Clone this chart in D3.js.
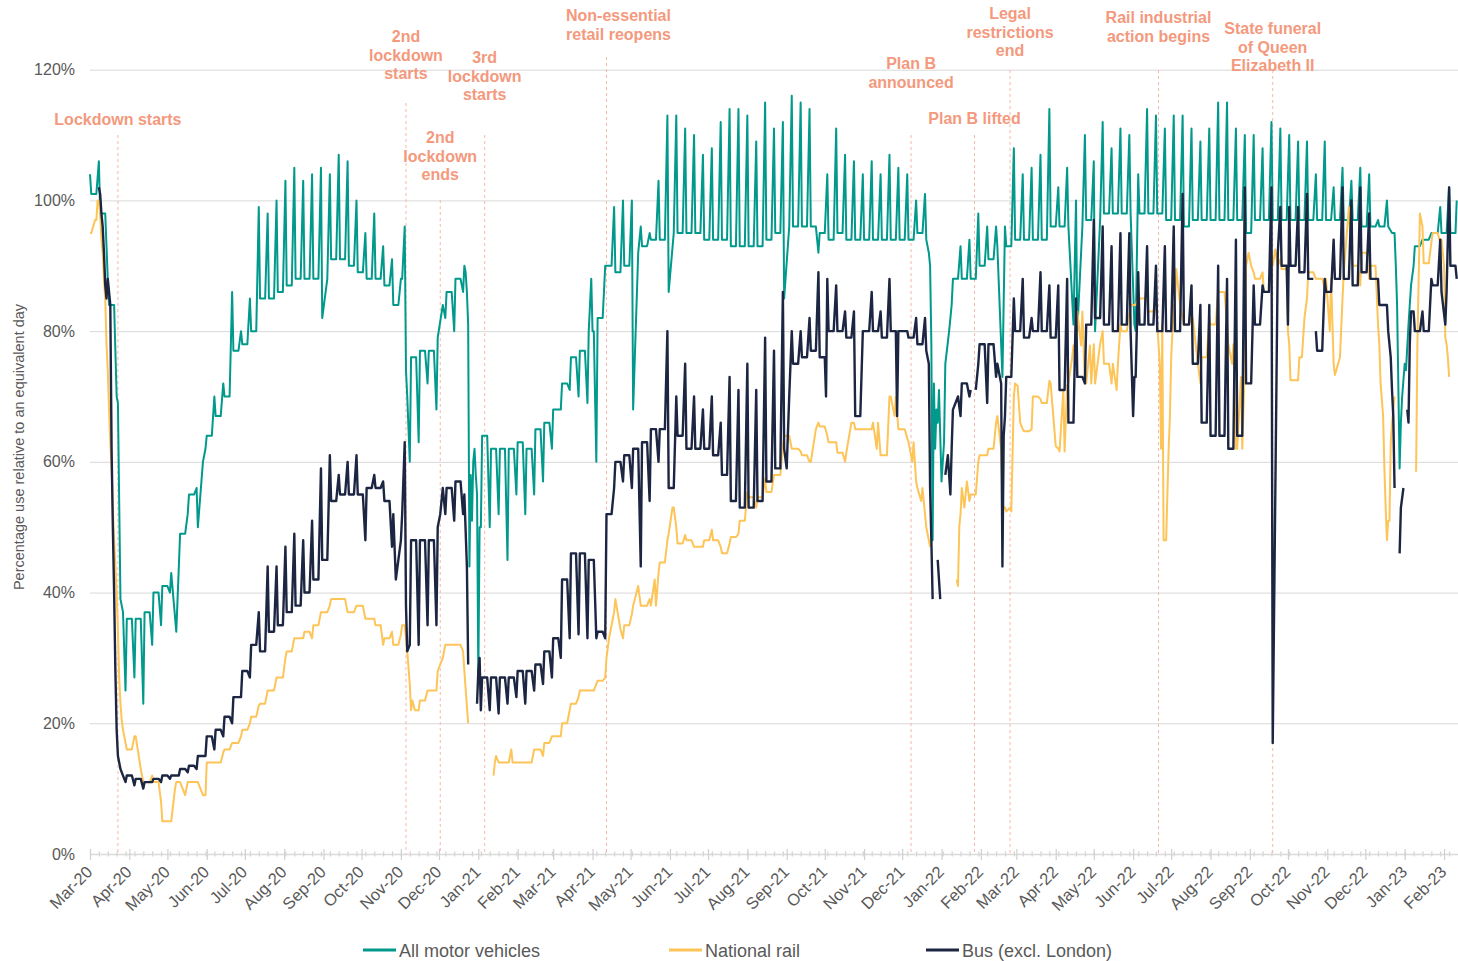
<!DOCTYPE html>
<html>
<head>
<meta charset="utf-8">
<script src="https://cdn.jsdelivr.net/npm/d3@7"></script>
<style>
  body { margin: 0; background: #fff; }
  svg { font-family: "Liberation Sans", Arial, sans-serif; }
</style>
</head>
<body>
<svg id="chart" width="1458" height="961"></svg>
<script>
// Week w starts on Sunday (2020-03-01 + 7w): *Sun = Sunday value,
// *Wd = weekday level (Mon and Fri). Extras are one-off days [dayIndex, value];
// a null value marks a break in the series.

const startDate = "2020-03-01";

const motorSun = [104,106,88,70,25,27,23,32,35,40,44,52,56,62,70,72,86,80,85,99,98,100,103,105,103,104,105,104,107,106,100,95,98,93,91,88,60,63,72,68,82,80,86,51,
  50,50,52,45,55,52,55,57,62,68,71,70,69,60,90,99,100,100,96,95,103,113,113,111,110,107,108,112,114,114,113,109,115,111,112,116,115,114,110,104,111,107,106,104,106,104,107,105,104,100,101,72,
  60,84,93,94,98,96,96,96,108,104,105,107,114,102,105,100,110,106,112,108,111,110,104,114,113,111,113,113,111,109,111,115,115,111,110,110,108,112,111,110,109,109,104,109,102,105,103,105,104,97,100,90,
  75,90,94,95,99,102];
const motorWd = [101,98,84,37,36,36,37,40,41,43,49,55,60,64,67,70,77,78,80,85,85,86,87,88,88,88,88,91,91,90,89,88,88,87,84,88,76,77,77,79,86,88,90,60,
  64,62,62,62,63,62,65,66,68,72,76,77,80,82,90,89,90,92,93,94,94,95,95,95,95,94,94,94,93,93,93,93,94,95,96,96,96,96,95,94,95,94,94,94,94,94,94,94,94,95,94,62,
  80,88,88,88,90,91,93,93,94,94,94,94,96,96,96,96,97,97,98,98,98,98,98,98,98,97,97,96,97,97,97,97,97,97,95,97,97,97,97,97,97,97,97,97,97,97,97,96,96,96,96,70,
  80,93,94,95,95,95];
const motorExtra = [[22,69],[24,39],[68,34],[85,50],[183,82],[248,96],[249,74],[250,70],[278,84],
  [296,89],[297,86],[298,81],[299,44],[300,58],[303,62],[304,58],[305,55],[306,27],[307,50],
  [395,88],[396,80],[428,68],[456,86],[547,85],[574,92],
  [661,92],[662,90],[663,78],[664,48],[667,68],[668,66],[669,71],[670,64],[671,57],[673,63],[674,75],
  [719,73],[775,81],[778,80],[792,80],[823,81],[824,80],
  [1026,95],[1027,95],[1028,95],[1030,84],[1032,59],[1033,66],[1037,74],[1039,81],[1041,87],[1077,100]];

const railSun = [95,null,null,null,17,18,11,12,8,5,11,11,11,9,14,15.5,17,18,20,22.7,25,27,30,33,33,33,37,38,39,37,38,36,36,32,34,33.6,26,22,25,25,32,32,31,null,
  null,null,14,14,14,14,16,15,18,18,22,24,25,26,27,37,33,36.7,38,39,43,48,50,48.8,47,47,49.6,47,47.5,49,55.4,53,57.5,58,62.4,62,61.6,60,66,64,63,60,66,65,65,61,70,65,63.6,57,52,null,
  null,null,52,54,60,61,66,53,70,65,65,69.6,72.4,62,71.7,78,72,78,80,72,81,82.6,85,85.8,85,48,84,82,82,72,82,86,81,62,75,89,89,92,91,78,72.5,85,88,86.5,75,85,95,87,88,81,48,null,
  null,null,96,93.5,93.5,73];
const railWd = [95,null,null,null,16,18,11,11,5,5,11,11,11,14,14,16,17,19,21,23,25,27,31,33,34,35,37,39,39,37,38,36,35,33,32,35,22,23.5,25,28,32,32,28,null,
  null,null,14,14,14,14,16,17,18,20,23,25,25,26.5,30,39,35,38,38,38,44.6,49,47.5,48,47,48,48,46,48.5,51,54.6,54.6,55.4,58,64,62,61,60,65.4,63,61.4,61.4,65,65,66,61,70,65,63,56,50,null,
  null,null,57,55,61,62,67,52.4,72,64.7,70,69,72,61.6,72,83,72,72,75,75,80,84,85,83,81,76,84,81,82,76,81,86,78,62,90,88,86,90,89.5,72.5,76,89,88,88,73.3,89,90,92,90,78,51,null,
  null,null,90.4,95,94,null];
const railExtra = [[4,97],[5,97],[6,100],[7,100],[8,98],[9,94],[10,92],[11,88],[12,85],[13,78],[14,74],[15,68],[16,63],
  [17,59],[18,53],[19,48],[20,44],[21,40],[22,34],[23,27],[24,23],[25,20.5],[26,19],[27,18],
  [40,13],[67,10],[68,11],[75,9],[89,9],[248,35],[250,31],[252,26],[254,23.5],[256,22],[278,30],[298,20],[299,null],
  [318,12],[319,14],[320,15],[332,16],[333,14],[409,33],[411,35],[418,34.4],[432,41],[445,42],[459,53],[460,53],
  [572,65],[600,66],[620,62],[634,67],[648,60],[655,54],[660,49],[662,47],[663,null],
  [683,42],[684,41],[685,50],[686,52],[687,56],[689,53],[718,62],[719,54],[720,53],[725,53],[731,71.6],[733,66],
  [761,62.4],[767,71],[774,76],[775,77.8],[781,77.8],[788,77.8],[796,78],[802,75],[809,71],
  [843,75],[844,62],[846,48],[848,48],[850,62],[851,67],[856,89.5],[873,75],[900,75],[907,73],[913,92],[934,92.5],
  [944,80],[955,76],[957,82],[977,80],[985,76],[992,99],[993,95],[1017,72],[1019,67],
  [1020,59],[1021,53],[1024,51],[1025,62.8],[1026,66],[1027,68],[1028,70],[1029,null],
  [1045,58.5],[1046,78],[1048,98],[1067,90],[1068,79],[1069,78],[1070,76]];

const busSun = [null,null,null,null,11,10.5,10,11,11,11.5,12,12.5,13,15,16,18,20,24,27,37,44,44,47,49,48,51,59,61,58,60,61,48,58,57,47,48,32,32,35,35,52,51,52,null,
  22,22,21.5,23,24,23,25,26,27,30,33,33.6,33,33,33,56,57,56,44,54,60,80,70,75,70,68,70,66,73,71,75,71,79,77,86,80,80,82,89,88,87,83,83,80,86,83,88,80,80,82,82,null,
  null,62,67,70,75,69,73,67,85,88,82,89,87,87,88,85,72,97,96,93,95,95,89,93,90,93,96,101,87,84,84,90,88,94,102,87,87,102,99,99,99,101,80,88,94,102,100,102,98,88,84,null,
  null,83,83,88,94,102];
const busWd = [null,null,null,null,12,11.5,11,11.5,12,12,13,13.5,15,18,19,21,24,28,32,31,34,35,37,38,40,42,45,54,55,55,55,56,56,54,52,52,48,48,48,50,56,57,55,null,
  27,27,27,27,28,28,29,31,33,42,46,46,45,34,52,60,61,62,63,65,65,56,64,62,62,62,61,58,54,53,53,54,57,59,63,75,76,77,76,80,80,79,67,80,80,79,80,80,79,78,77,null,
  null,70,72,71,78,78,75,73,80,79,80,80,79,71,66,73,81,82,81,80,81,80,81,81,80,80,80,81,75,66,64,64,62,64,72,81,86,92,90,90,89,88,77,86,88,88,87,89,88,84,80,null,
  null,80,80,87,86,90];
const busExtra = [[7,102],[8,101],[9,98],[10,96],[11,92],[12,87],[13,85],[14,88],[15,86],[16,84],[17,62],[18,50],[19,40],
  [20,28],[21,19],[22,15],[23,14],[24,13],[26,12],
  [241,42],[243,45],[246,52],[248,63],[249,38],[250,31],[276,52],[278,56],
  [297,44],[298,29],[299,null],[305,23],[306,28],[307,30],
  [547,62],[549,59],[551,70],[580,70],[636,67],
  [661,75],[662,56],[663,48],[664,39],[665,null],[668,45],[670,39],[671,null],[674,58],[676,61],[678,55],[680,68],
  [695,null],[718,72],[719,44],[720,64],[822,67],[823,73],[824,73],[932,17],[944,81],[965,null],
  [1025,76],[1026,71],[1027,67],[1028,56],[1029,null],[1032,46],[1033,53],[1035,56],[1036,null],
  [1038,68],[1039,66],[1040,78],[1041,83],[1068,81],[1077,88]];

const seriesNames = ["All motor vehicles", "National rail", "Bus (excl. London)"];
const yTicks = [0, 20, 40, 60, 80, 100, 120];

const eventDates = ["2020-03-23","2020-11-05","2020-12-02","2021-01-06","2021-04-12",
  "2021-12-08","2022-01-27","2022-02-24","2022-06-21","2022-09-19"];
const eventLabels = [["Lockdown starts"], ["2nd","lockdown","starts"], ["2nd","lockdown","ends"],
  ["3rd","lockdown","starts"], ["Non-essential","retail reopens"], ["Plan B","announced"],
  ["Plan B lifted"], ["Legal","restrictions","end"], ["Rail industrial","action begins"],
  ["State funeral","of Queen","Elizabeth II"]];

// layout of the event labels: first text line centre, top of dashed line, x nudge
const eventLayout = [[119,135,0],[36,103,0],[137,200,0],[57,135,0],[15,57,12],
  [63,135,0],[118,135,0],[13,70,0],[17,70,0],[28,70,0]];

const colors = ["#00998b", "#fdc457", "#1c2642"];
const textGrey = "#595959";
const eventColor = "#f4997d";

const svg = d3.select("#chart");
const parse = d3.utcParse("%Y-%m-%d");
const t0 = parse(startDate);

const x = d3.scaleUtc()
  .domain([t0, parse("2023-02-12")])
  .range([90, 1458]);
const y = d3.scaleLinear().domain([0, 120]).range([854, 69.7]);

function buildSeries(sun, wd, extra) {
  const pts = new Map();
  sun.forEach((v, w) => { if (v != null) pts.set(7 * w, v); });
  wd.forEach((v, w) => {
    if (v != null) { pts.set(7 * w + 1, v); pts.set(7 * w + 5, v); }
  });
  extra.forEach(([d, v]) => pts.set(d, v));
  return Array.from(pts, ([d, v]) => ({ day: d, v: v }))
    .sort((a, b) => a.day - b.day)
    .map(p => ({ date: d3.utcDay.offset(t0, p.day), v: p.v }));
}

const series = [
  buildSeries(motorSun, motorWd, motorExtra),
  buildSeries(railSun, railWd, railExtra),
  buildSeries(busSun, busWd, busExtra)
];

// gridlines + y labels
const yAxis = svg.append("g")
  .attr("transform", "translate(90,0)")
  .call(d3.axisLeft(y).tickValues(yTicks).tickSize(-(1458 - 90)).tickPadding(15)
    .tickFormat(d => d + "%"));
yAxis.select(".domain").remove();
yAxis.selectAll(".tick line").attr("stroke", "#d9d9d9").attr("stroke-width", 1);
yAxis.selectAll(".tick text")
  .attr("fill", textGrey).style("font-size", "16px");

// x axis
const months = d3.utcMonth.range(t0, parse("2023-02-12"));
const weeks = d3.utcWeek.range(t0, parse("2023-02-12"));

const xMinor = svg.append("g")
  .attr("transform", "translate(0,854)")
  .call(d3.axisBottom(x).tickValues(weeks).tickSize(2.5).tickFormat(""));
xMinor.select(".domain").remove();
xMinor.selectAll(".tick line").attr("stroke", "#d0d0d0").attr("y1", -2.5).attr("stroke-width", 1.2);

const xAxis = svg.append("g")
  .attr("transform", "translate(0,854)")
  .call(d3.axisBottom(x).tickValues(months).tickSize(6).tickSizeOuter(0)
    .tickFormat(d3.utcFormat("%b-%y")));
xAxis.select(".domain").attr("stroke", "#d9d9d9").attr("stroke-width", 1.5);
xAxis.selectAll(".tick line").attr("stroke", "#d0d0d0").attr("y1", -5).attr("stroke-width", 1.2);
xAxis.selectAll(".tick text")
  .attr("fill", textGrey)
  .style("font-size", "16.5px")
  .attr("text-anchor", "end")
  .attr("y", 0).attr("dy", 0)
  .attr("transform", "translate(3,19) rotate(-45)");

// y axis title
svg.append("text")
  .attr("transform", "translate(24,447) rotate(-90)")
  .attr("text-anchor", "middle")
  .attr("fill", textGrey)
  .style("font-size", "14.5px")
  .text("Percentage use relative to an equivalent day");

// event markers
const events = svg.append("g");
eventDates.forEach((ds, i) => {
  const ex = x(parse(ds));
  const [textY, lineTop, dx] = eventLayout[i];
  events.append("line")
    .attr("x1", ex).attr("x2", ex)
    .attr("y1", lineTop).attr("y2", 854)
    .attr("stroke", "#f6b9a8").attr("stroke-width", 1)
    .attr("stroke-dasharray", "3,3");
  const txt = events.append("text")
    .attr("text-anchor", "middle")
    .attr("fill", eventColor)
    .style("font-size", "16px")
    .style("font-weight", "bold");
  eventLabels[i].forEach((s, k) => {
    txt.append("tspan")
      .attr("x", ex + dx)
      .attr("y", textY + 6 + k * 18.7)
      .text(s);
  });
});

// lines
const line = d3.line()
  .defined(d => d.v != null)
  .x(d => x(d.date))
  .y(d => y(d.v));

const widths = [2, 2, 2.4];
series.forEach((s, i) => {
  svg.append("path")
    .datum(s)
    .attr("fill", "none")
    .attr("stroke", colors[i])
    .attr("stroke-width", widths[i])
    .attr("stroke-linejoin", "round")
    .attr("d", line);
});

// legend
const legendX = [363, 669, 926];
const legend = svg.append("g");
seriesNames.forEach((name, i) => {
  legend.append("line")
    .attr("x1", legendX[i]).attr("x2", legendX[i] + 33)
    .attr("y1", 950).attr("y2", 950)
    .attr("stroke", colors[i]).attr("stroke-width", 3);
  legend.append("text")
    .attr("x", legendX[i] + 36).attr("y", 956.5)
    .attr("fill", textGrey)
    .style("font-size", "18px")
    .text(name);
});
</script>
</body>
</html>
